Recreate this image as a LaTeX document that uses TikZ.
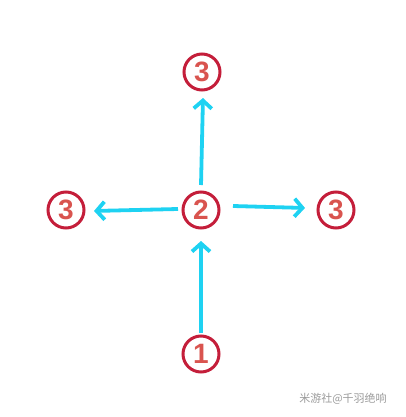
\documentclass[tikz,border=0pt]{standalone}
\usepackage{fontspec}
\setmainfont{Liberation Sans}
\newfontfamily\cjk{Noto Sans CJK SC}
\usetikzlibrary{arrows.meta}
\definecolor{ring}{HTML}{C41E3A}
\definecolor{digit}{HTML}{D9544F}
\definecolor{arr}{HTML}{1ED2F2}
\definecolor{wm}{HTML}{9A9A9A}
\begin{document}
\begin{tikzpicture}[x=1pt,y=-1pt,
  num/.style={circle,draw=ring,line width=3pt,minimum size=36pt,inner sep=0pt,text=digit,font=\bfseries\fontsize{28}{28}\selectfont},
  flow/.style={draw=arr,line width=3.8pt,-{Straight Barb[length=8pt,width=18pt,line width=3.8pt]},shorten >=1pt}]
\useasboundingbox (0,0) rectangle (405,417);
\node[num] (c1) at (201,354) {1};
\node[num] (c2) at (201,210) {2};
\node[num] (t) at (202,72) {3};
\node[num] (l) at (66,210) {3};
\node[num] (r) at (336,210) {3};
\coordinate (b1) at (201,333);
\coordinate (b2) at (201,240);
\coordinate (u1) at (201,185);
\coordinate (u2) at (203,97);
\coordinate (l1) at (178,209);
\coordinate (l2) at (93,211);
\coordinate (r1) at (233,206);
\coordinate (r2) at (306,208);
\draw[flow] (b1) -- (b2);
\draw[flow] (u1) -- (u2);
\draw[flow] (l1) -- (l2);
\draw[flow] (r1) -- (r2);
\node[text=wm,font=\cjk\fontsize{11}{11}\selectfont] (w) at (343,399) {米游社@千羽绝响};
\end{tikzpicture}
\end{document}
